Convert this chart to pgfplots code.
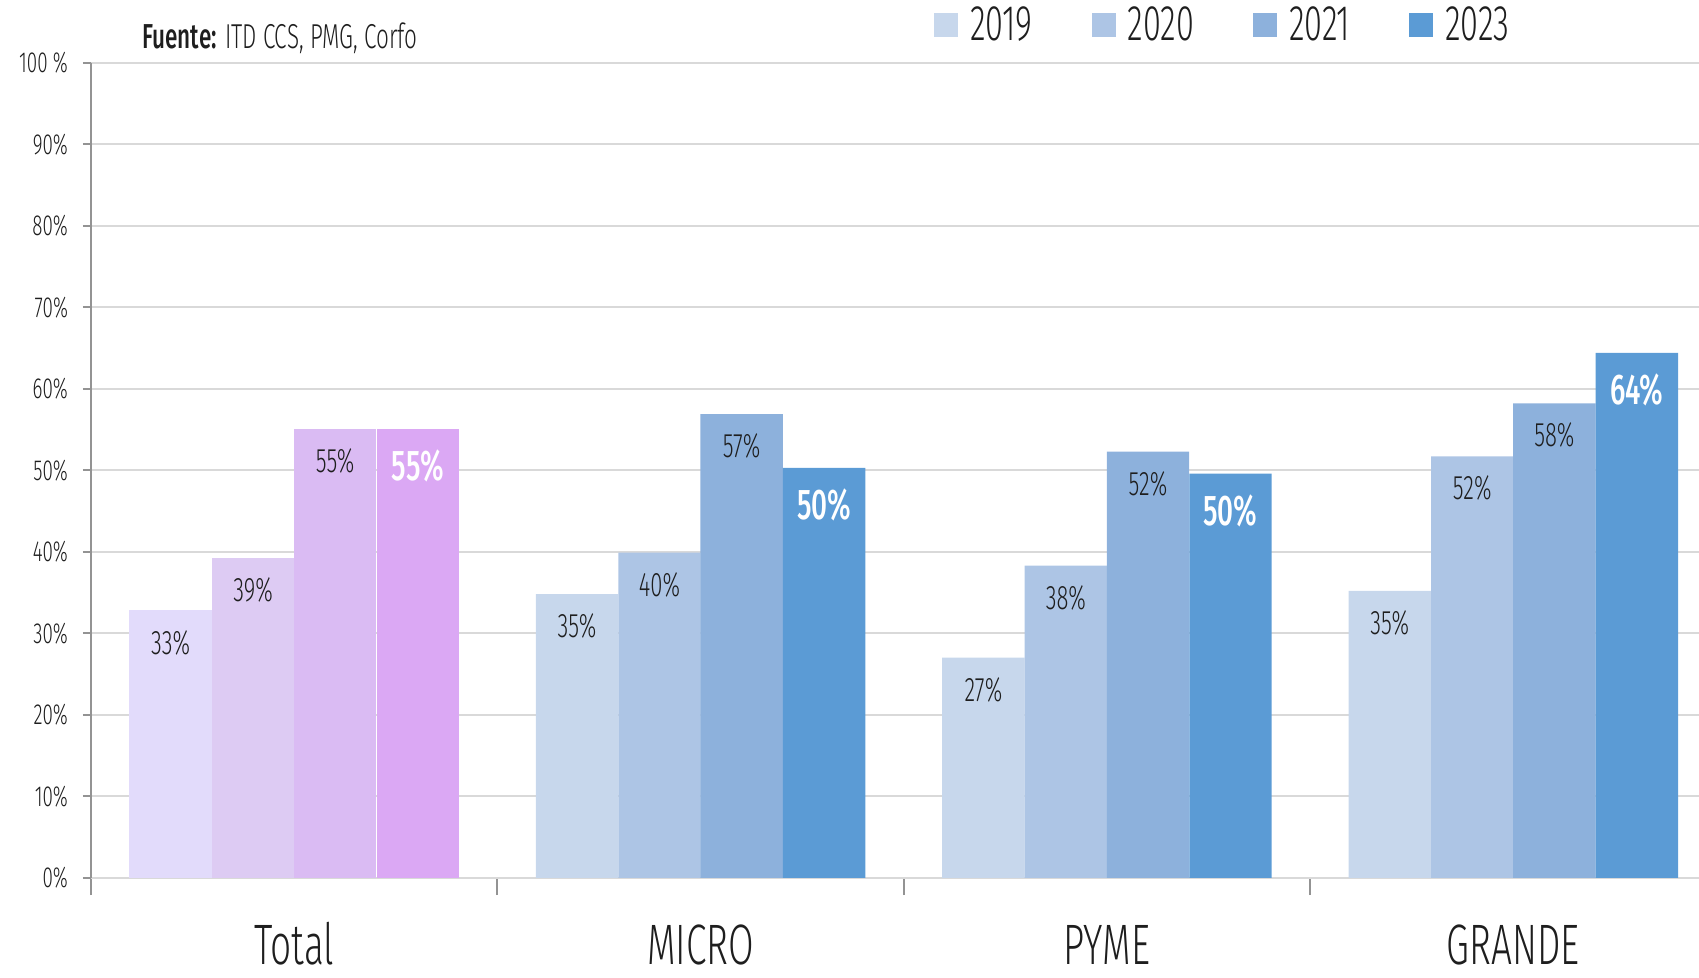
\documentclass[border=0pt]{standalone}
\usepackage{fontspec}
\setmainfont{Fira Sans}[UprightFont=* Light, BoldFont=* Medium, FakeStretch=0.65]
\usepackage{pgfplots}
\pgfplotsset{compat=1.18}
\definecolor{p1}{HTML}{E2DBFB}
\definecolor{p2}{HTML}{DDCBF3}
\definecolor{p3}{HTML}{DABBF3}
\definecolor{p4}{HTML}{DBA8F4}
\definecolor{b1}{HTML}{C7D7EC}
\definecolor{b2}{HTML}{ADC5E5}
\definecolor{b3}{HTML}{8DB1DC}
\definecolor{b4}{HTML}{5B9BD5}
\definecolor{gridc}{HTML}{D9D9D9}
\definecolor{txt}{HTML}{1E1E1E}
\pgfplotsset{
  lbl/.style={nodes near coords={\pgfmathprintnumber[fixed,precision=0,assume math mode=true]{\pgfplotspointmeta}\%},
    every node near coord/.append style={anchor=center, yshift=-16pt, font=\fontsize{17}{17}\selectfont, text=txt}},
  lblb/.style={nodes near coords={\pgfmathprintnumber[fixed,precision=0,assume math mode=true]{\pgfplotspointmeta}\%},
    every node near coord/.append style={anchor=center, yshift=-18.5pt, font=\bfseries\fontsize{21.5}{21.5}\selectfont, text=white}},
}
\begin{document}
\begin{tikzpicture}
\begin{axis}[
  name=ax,
  width=804pt, height=407.5pt, scale only axis,
  xmin=-0.5, xmax=3.457, ymin=0, ymax=100,
  axis x line*=bottom, axis y line*=left,
  x axis line style={draw=gridc, line width=1pt, -},
  y axis line style={draw=gray!85, line width=1pt, -},
  ymajorgrids, grid style={gridc, line width=1pt},
  ytick={0,10,...,100},
  yticklabels={0\%,10\%,20\%,30\%,40\%,50\%,60\%,70\%,80\%,90\%,100 \%},
  yticklabel style={font=\fontsize{14.5}{14.5}\selectfont, text=txt, xshift=-4pt},
  tick align=outside,
  major tick length=4pt,
  minor tick length=8.7pt,
  ytick style={draw=gray!85, line width=1pt},
  xtick={0,1,2,3},
  xticklabels={Total,MICRO,PYME,GRANDE},
  major x tick style={draw=none},
  minor xtick={-0.5,0.5,1.5,2.5},
  minor x tick style={draw=gray!85, line width=1pt},
  xticklabel style={anchor=base, inner sep=0pt, yshift=-39.5pt, font=\fontsize{28.5}{28.5}\selectfont, text=txt},
  ybar, bar width=0.2027, bar shift=0pt,
  clip=false,
  legend columns=4,
  legend style={draw=none, fill=none, inner sep=0pt, at={(0.524,1.0464)}, anchor=west,
    font=\fontsize{25}{25}\selectfont, text=txt,
    nodes={inner sep=0pt},
    /tikz/every odd column/.append style={column sep=6pt},
    /tikz/every even column/.append style={column sep=29.5pt}},
  legend image code/.code={\fill[#1, draw=none] (0pt,-6pt) rectangle (12pt,6pt);},
]
% Total group (purple)
\addplot[fill=p1, draw=none, lbl, forget plot] coordinates {(-0.304,32.8)};
\addplot[fill=p2, draw=none, lbl, forget plot] coordinates {(-0.101,39.2)};
\addplot[fill=p3, draw=none, lbl, forget plot] coordinates {(0.101,55.1)};
\addplot[fill=p4, draw=none, lblb, forget plot] coordinates {(0.304,55.1)};
% MICRO, PYME, GRANDE (blue)
\addplot[fill=b1, draw=none, lbl] coordinates {(0.696,34.8) (1.696,27.0) (2.696,35.2)};
\addplot[fill=b2, draw=none, lbl] coordinates {(0.899,39.9) (1.899,38.3) (2.899,51.7)};
\addplot[fill=b3, draw=none, lbl] coordinates {(1.101,56.9) (2.101,52.3) (3.101,58.2)};
\addplot[fill=b4, draw=none, lblb] coordinates {(1.304,50.3) (2.304,49.6) (3.304,64.4)};
\legend{2019,2020,2021,2023}
\node[anchor=west, font=\fontsize{17.3}{17.3}\selectfont, text=txt, inner sep=0pt] at (rel axis cs:0.0317,1.030) {\textbf{Fuente:} ITD CCS, PMG, Corfo};
\end{axis}
\pgfresetboundingbox
\path[use as bounding box] ([xshift=-45.5pt,yshift=-49.65pt]ax.south west) rectangle ([yshift=31.4pt]ax.north east);
\end{tikzpicture}
\end{document}
